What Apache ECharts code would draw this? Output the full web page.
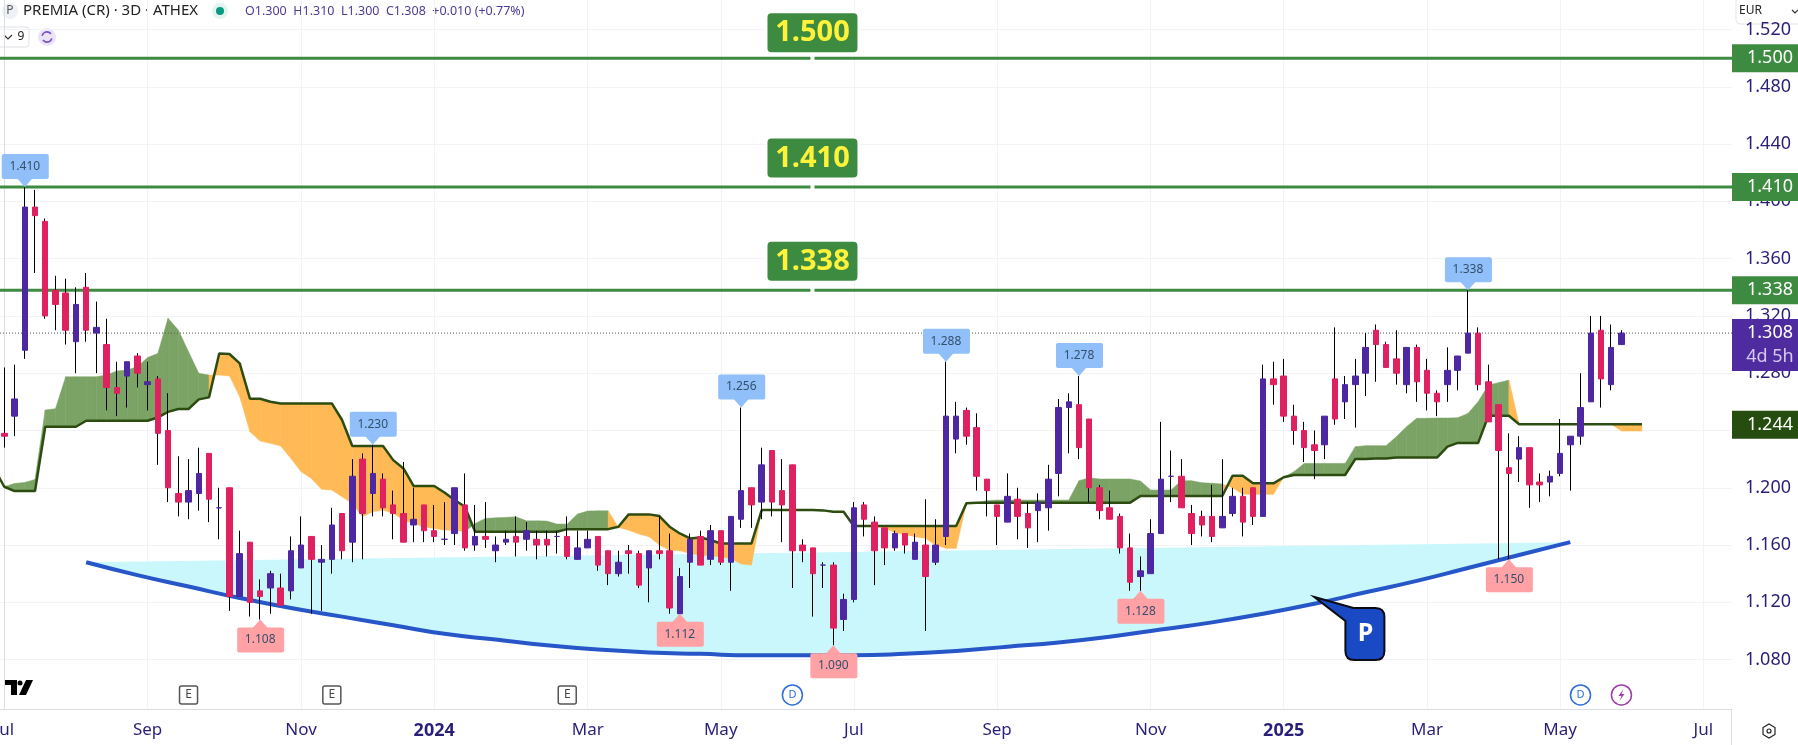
<!DOCTYPE html>
<html>
<head>
    <meta charset="utf-8">
    <title>PREMIA (CR) 3D</title>
    <script src="https://cdn.jsdelivr.net/npm/echarts@6/dist/echarts.min.js"></script>
    <style>
        html, body { margin: 0; padding: 0; background: #fff; }
        #chart { width: 1798px; height: 745px; }
    </style>
</head>
<body>
<div id="chart"></div>
<script>
    // candles, one per 3-day bar
    var opens = [1.238,1.250,1.296,1.396,1.386,1.338,1.336,1.302,1.340,1.308,
        1.300,1.270,1.278,1.292,1.272,1.276,1.240,1.196,1.190,1.196,
        1.224,1.186,1.200,1.124,1.162,1.128,1.130,1.130,1.128,1.144,
        1.166,1.148,1.150,1.182,1.162,1.220,1.196,1.206,1.188,1.182,
        1.174,1.188,1.170,1.164,1.168,1.188,1.160,1.166,1.156,1.162,
        1.166,1.164,1.164,1.164,1.166,1.166,1.150,1.158,1.166,1.156,
        1.140,1.156,1.154,1.144,1.156,1.156,1.112,1.148,1.166,1.150,
        1.170,1.148,1.178,1.200,1.190,1.226,1.198,1.216,1.160,1.158,
        1.146,1.146,1.108,1.122,1.188,1.176,1.172,1.158,1.168,1.150,
        1.160,1.148,1.166,1.234,1.254,1.242,1.206,1.188,1.176,1.192,
        1.182,1.184,1.186,1.210,1.256,1.258,1.248,1.200,1.186,1.180,
        1.158,1.138,1.140,1.168,1.208,1.208,1.182,1.180,1.180,1.172,
        1.182,1.194,1.200,1.180,1.276,1.278,1.250,1.240,1.230,1.230,
        1.276,1.260,1.272,1.280,1.310,1.300,1.290,1.272,1.298,1.282,
        1.266,1.272,1.282,1.294,1.308,1.274,1.258,1.214,1.220,1.228,
        1.204,1.204,1.210,1.230,1.236,1.260,1.310,1.272,1.300];
    var closes = [1.236,1.262,1.396,1.390,1.320,1.328,1.310,1.328,1.310,1.312,
        1.270,1.266,1.288,1.280,1.274,1.238,1.200,1.190,1.198,1.210,
        1.192,1.186,1.124,1.154,1.120,1.124,1.140,1.118,1.156,1.160,
        1.150,1.150,1.174,1.156,1.208,1.182,1.210,1.186,1.182,1.162,
        1.178,1.170,1.166,1.164,1.200,1.158,1.166,1.164,1.160,1.164,
        1.162,1.170,1.160,1.160,1.166,1.152,1.158,1.164,1.146,1.140,
        1.148,1.154,1.132,1.156,1.154,1.116,1.138,1.164,1.146,1.170,
        1.148,1.180,1.198,1.188,1.216,1.190,1.188,1.156,1.156,1.140,
        1.146,1.102,1.122,1.186,1.178,1.156,1.158,1.168,1.160,1.162,
        1.138,1.160,1.250,1.250,1.236,1.208,1.198,1.180,1.194,1.180,
        1.172,1.190,1.206,1.256,1.260,1.228,1.200,1.184,1.178,1.158,
        1.134,1.142,1.168,1.206,1.208,1.186,1.168,1.174,1.166,1.180,
        1.194,1.176,1.180,1.276,1.272,1.250,1.240,1.228,1.226,1.250,
        1.248,1.272,1.278,1.298,1.300,1.284,1.280,1.298,1.274,1.266,
        1.260,1.282,1.292,1.308,1.272,1.246,1.226,1.210,1.228,1.202,
        1.202,1.208,1.224,1.236,1.256,1.308,1.276,1.298,1.308];
    var lows = [1.228,1.236,1.290,1.350,1.318,1.310,1.300,1.280,1.302,1.280,
        1.254,1.250,1.256,1.270,1.254,1.216,1.190,1.180,1.178,1.184,
        1.176,1.164,1.114,1.124,1.110,1.108,1.112,1.118,1.122,1.144,
        1.112,1.114,1.140,1.150,1.148,1.150,1.180,1.180,1.164,1.162,
        1.162,1.162,1.162,1.160,1.160,1.156,1.156,1.158,1.148,1.160,
        1.152,1.156,1.150,1.152,1.154,1.150,1.150,1.158,1.142,1.132,
        1.138,1.140,1.130,1.120,1.150,1.112,1.112,1.130,1.146,1.146,
        1.146,1.128,1.172,1.172,1.178,1.180,1.162,1.130,1.148,1.110,
        1.130,1.090,1.100,1.120,1.166,1.132,1.146,1.156,1.154,1.150,
        1.100,1.146,1.160,1.224,1.230,1.198,1.180,1.160,1.176,1.164,
        1.158,1.162,1.170,1.194,1.224,1.220,1.190,1.178,1.178,1.154,
        1.128,1.128,1.140,1.168,1.190,1.186,1.160,1.166,1.162,1.172,
        1.180,1.166,1.174,1.180,1.258,1.246,1.230,1.218,1.206,1.220,
        1.244,1.248,1.242,1.264,1.274,1.284,1.272,1.266,1.260,1.254,
        1.250,1.260,1.268,1.294,1.268,1.246,1.150,1.150,1.204,1.186,
        1.190,1.194,1.208,1.198,1.230,1.260,1.256,1.268,1.300];
    var highs = [1.284,1.286,1.410,1.408,1.388,1.348,1.346,1.340,1.350,1.330,
        1.318,1.288,1.288,1.294,1.288,1.278,1.266,1.222,1.220,1.228,
        1.224,1.200,1.200,1.170,1.162,1.136,1.142,1.140,1.166,1.180,
        1.166,1.160,1.186,1.182,1.220,1.224,1.230,1.210,1.198,1.218,
        1.200,1.188,1.188,1.190,1.200,1.210,1.188,1.190,1.166,1.170,
        1.180,1.176,1.170,1.170,1.170,1.180,1.170,1.170,1.166,1.156,
        1.156,1.160,1.156,1.156,1.180,1.168,1.144,1.168,1.170,1.174,
        1.170,1.180,1.256,1.200,1.228,1.226,1.220,1.216,1.164,1.158,
        1.148,1.148,1.126,1.190,1.190,1.180,1.172,1.170,1.168,1.168,
        1.192,1.178,1.288,1.260,1.256,1.252,1.206,1.188,1.210,1.200,
        1.190,1.196,1.216,1.262,1.266,1.278,1.248,1.202,1.198,1.182,
        1.168,1.152,1.178,1.246,1.226,1.220,1.188,1.184,1.202,1.220,
        1.200,1.200,1.200,1.286,1.288,1.290,1.258,1.246,1.240,1.250,
        1.312,1.278,1.290,1.308,1.314,1.302,1.310,1.298,1.300,1.290,
        1.268,1.298,1.292,1.338,1.312,1.286,1.258,1.238,1.236,1.228,
        1.210,1.212,1.248,1.236,1.280,1.320,1.320,1.314,1.310];

    // cloud edges, first entry sits one bar before the first candle
    var cloudStart = -1;
    var spanA = [1.2135,1.2007,1.2030,1.2037,1.2058,1.2543,1.2552,1.2775,1.2775,1.2775,
        1.2775,1.2787,1.2815,1.2822,1.2845,1.2910,1.2938,1.3183,1.3101,1.2950,
        1.2799,1.2787,1.2787,1.2780,1.2636,1.2391,1.2326,1.2310,1.2291,1.2205,
        1.2112,1.2065,1.1989,1.1984,1.1937,1.1890,1.1798,1.1833,1.1844,1.1821,
        1.1774,1.1751,1.1728,1.1716,1.1704,1.1704,1.1693,1.1751,1.1786,1.1790,
        1.1793,1.1797,1.1769,1.1769,1.1767,1.1746,1.1746,1.1816,1.1837,1.1839,
        1.1839,1.1723,1.1704,1.1677,1.1658,1.1600,1.1565,1.1560,1.1541,1.1530,
        1.1523,1.1518,1.1506,1.1467,1.1460,1.1844,1.1844,1.1844,1.1844,1.1844,
        1.1844,1.1842,1.1832,1.1832,1.1733,1.1728,1.1728,1.1721,1.1686,1.1674,
        1.1658,1.1647,1.1600,1.1577,1.1577,1.1891,1.1896,1.1910,1.1914,1.1914,
        1.1914,1.1914,1.1914,1.1914,1.1914,1.1914,1.2049,1.2070,1.2061,1.2061,
        1.2061,1.2061,1.2047,1.1984,1.1984,1.1984,1.2049,1.2049,1.2035,1.2031,
        1.2026,1.2000,1.1954,1.1954,1.1954,1.1954,1.2073,1.2112,1.2170,1.2170,
        1.2170,1.2170,1.2170,1.2287,1.2294,1.2294,1.2294,1.2356,1.2426,1.2485,
        1.2485,1.2487,1.2487,1.2489,1.2519,1.2601,1.2717,1.2734,1.2752,1.2443,
        1.2443,1.2443,1.2443,1.2443,1.2443,1.2443,1.2443,1.2443,1.2443,1.2396,
        1.2396,1.2396];
    var spanB = [1.2135,1.2007,1.1977,1.1977,1.1977,1.2426,1.2426,1.2426,1.2426,1.2468,
        1.2468,1.2468,1.2468,1.2468,1.2468,1.2468,1.2491,1.2530,1.2550,1.2550,
        1.2617,1.2631,1.2938,1.2934,1.2868,1.2622,1.2622,1.2601,1.2589,1.2589,
        1.2589,1.2589,1.2589,1.2589,1.2473,1.2291,1.2291,1.2291,1.2291,1.2193,
        1.2135,1.2012,1.2012,1.2012,1.1967,1.1914,1.1867,1.1693,1.1693,1.1693,
        1.1693,1.1693,1.1693,1.1693,1.1693,1.1693,1.1711,1.1711,1.1711,1.1711,
        1.1711,1.1728,1.1814,1.1814,1.1814,1.1802,1.1728,1.1681,1.1646,1.1653,
        1.1635,1.1611,1.1611,1.1611,1.1611,1.1844,1.1844,1.1844,1.1844,1.1844,
        1.1844,1.1842,1.1832,1.1832,1.1733,1.1733,1.1733,1.1733,1.1733,1.1733,
        1.1733,1.1733,1.1733,1.1733,1.1733,1.1891,1.1896,1.1896,1.1896,1.1896,
        1.1896,1.1896,1.1896,1.1896,1.1896,1.1896,1.1896,1.1896,1.1896,1.1896,
        1.1896,1.1896,1.1942,1.1942,1.1942,1.1942,1.1942,1.1942,1.1942,1.1942,
        1.1942,1.2084,1.2084,1.2031,1.2031,1.2031,1.2073,1.2089,1.2089,1.2089,
        1.2089,1.2089,1.2089,1.2201,1.2201,1.2204,1.2205,1.2212,1.2212,1.2212,
        1.2212,1.2212,1.2287,1.2313,1.2313,1.2313,1.2503,1.2503,1.2503,1.2443,
        1.2443,1.2443,1.2443,1.2443,1.2443,1.2443,1.2443,1.2443,1.2443,1.2443,
        1.2443,1.2443];

    // hand drawn curve under the base
    var curveBars = [8,13,18,23,28,33,38,43,48,53,58,63,68,73,78,83,88,93,98,103,108,113,118,123,128,133,138,143,148,153];
    var curveValues = [1.148,1.139,1.131,1.123,1.116,1.110,1.104,1.098,1.094,1.090,1.087,1.085,1.084,1.083,1.083,1.083,1.084,1.086,1.089,1.092,1.096,1.101,1.106,1.112,1.119,1.127,1.135,1.144,1.153,1.162];

    // callouts on swing highs and lows
    var peakBars = [2,36,72,92,105,143];
    var peakValues = [1.410,1.230,1.256,1.288,1.278,1.338];
    var troughBars = [25,66,81,111,147];
    var troughValues = [1.108,1.112,1.090,1.128,1.150];

    // horizontal levels and price tags
    var levelValues = [1.500,1.410,1.338];
    var lastPrice = 1.308;
    var cloudPrice = 1.244;

    // axis ticks
    var monthBars = [0,14,29,42,57,70,83,97,112,125,139,152,166];
    var monthLabels = ['Jul','Sep','Nov','2024','Mar','May','Jul','Sep','Nov','2025','Mar','May','Jul'];
    var priceTicks = [1.08,1.12,1.16,1.20,1.24,1.28,1.32,1.36,1.40,1.44,1.48,1.52];

    // events along the bottom
    var earningsBars = [18,32,55];
    var dividendBars = [77,154];
    var splitBars = [158];
    var eventLevel = 1.0553;

    var FONT = '"Noto Sans", sans-serif';
    var UP = '#4e27a3', DOWN = '#e0215f', GREEN = '#3d8b40', PRICE_TEXT = '#2a1f78';

    var chart = echarts.init(document.getElementById('chart'));

    var wickData = opens.map(function (o, i) {
        return [i, lows[i], highs[i], lows[i], highs[i]];
    });
    var bodyData = opens.map(function (o, i) {
        return [i, o, closes[i], Math.min(o, closes[i]), Math.max(o, closes[i])];
    });
    var cloudData = spanA.map(function (a, i) {
        return [cloudStart + i, a, spanB[i]];
    });
    var spanBLine = spanB.map(function (b, i) {
        return [cloudStart + i, b];
    });
    var curveData = curveBars.map(function (b, i) {
        return [b, curveValues[i]];
    });

    function renderCloud(params, api) {
        var i = params.dataIndex;
        if (i === 0) return;
        // bar colour comes from the bar the segment runs into
        var fill = spanA[i] > spanB[i] ? '#7aa365' : '#ffb955';
        var x0 = cloudStart + i - 1, x1 = cloudStart + i;
        return {
            type: 'polygon',
            shape: {
                points: [
                    api.coord([x0, spanA[i - 1]]), api.coord([x1, spanA[i]]),
                    api.coord([x1, spanB[i]]), api.coord([x0, spanB[i - 1]])
                ]
            },
            style: { fill: fill, stroke: fill, lineWidth: 0.5 }
        };
    }

    function renderBowl(params, api) {
        if (params.dataIndex !== 0) return;
        var pts = curveData.map(function (p) { return api.coord(p); });
        return { type: 'polygon', shape: { points: pts }, style: { fill: '#c9f7fb' } };
    }

    function renderLevel(params, api) {
        var p = api.coord([0, api.value(1)]);
        return {
            type: 'line',
            shape: { x1: params.coordSys.x, y1: p[1], x2: params.coordSys.x + params.coordSys.width, y2: p[1] },
            style: { stroke: GREEN, lineWidth: 3 }
        };
    }

    function renderLastLine(params, api) {
        var p = api.coord([0, api.value(1)]);
        return {
            type: 'line',
            shape: { x1: params.coordSys.x, y1: p[1], x2: params.coordSys.x + params.coordSys.width, y2: p[1] },
            style: { stroke: '#555', lineWidth: 1, lineDash: [1, 2] }
        };
    }

    // big label sitting on a level line
    function renderLevelTag(params, api) {
        var p = api.coord([78.96, api.value(1)]);
        // the top tag is squeezed against the window edge in the original
        var gap = params.dataIndex === 0 ? 5 : 8.5;
        var top = p[1] - gap - 41;
        return {
            type: 'group',
            children: [
                { type: 'rect', shape: { x: p[0] - 2, y: p[1] - 4, width: 4, height: 7 }, style: { fill: '#fff' } },
                { type: 'rect', shape: { x: p[0] - 46, y: top, width: 92, height: 41, r: 5 },
                  style: { fill: GREEN, stroke: '#fff', lineWidth: 2 } },
                { type: 'text', style: { text: api.value(1).toFixed(3), x: p[0], y: top + 21, fill: '#fff23a',
                    font: 'bold 29px ' + FONT, align: 'center', verticalAlign: 'middle' } }
            ]
        };
    }

    function renderCallout(fill, above) {
        return function (params, api) {
            var p = api.coord([api.value(0), api.value(1)]);
            var d = above ? -1 : 1;
            var boxTop = above ? p[1] - 33 : p[1] + 8;
            return {
                type: 'group',
                children: [
                    { type: 'polygon', shape: { points: [[p[0], p[1]], [p[0] - 8, p[1] + d * 9], [p[0] + 8, p[1] + d * 9]] }, style: { fill: fill } },
                    { type: 'rect', shape: { x: p[0] - 23, y: boxTop, width: 47, height: 25, r: 2 }, style: { fill: fill } },
                    { type: 'text', style: { text: api.value(1).toFixed(3), x: p[0], y: boxTop + 12.5, fill: '#33506b',
                        font: '12px ' + FONT, align: 'center', verticalAlign: 'middle' } }
                ]
            };
        };
    }

    // box on the price scale
    function priceTag(params, api, fill, sub) {
        var p = api.coord([0, api.value(1)]);
        var x = params.coordSys.x + params.coordSys.width;
        var children = [
            { type: 'rect', shape: { x: x, y: p[1] - 14, width: 66, height: sub ? 52 : 28 }, style: { fill: fill } },
            { type: 'text', style: { text: api.value(1).toFixed(3), x: x + 38, y: p[1], fill: '#fff',
                font: '18px ' + FONT, align: 'center', verticalAlign: 'middle' } }
        ];
        if (sub) {
            children.push({ type: 'text', style: { text: sub, x: x + 38, y: p[1] + 24, fill: '#d5c9ef',
                font: '18px ' + FONT, align: 'center', verticalAlign: 'middle' } });
        }
        return { type: 'group', children: children };
    }

    function renderCallP(params, api) {
        var t = api.coord([api.value(0), api.value(1)]);
        var x = t[0] + 31, y = t[1] + 11;
        return {
            type: 'group',
            children: [
                { type: 'path', shape: {
                    pathData: 'M' + t[0] + ' ' + t[1] +
                        ' L' + (x + 8) + ' ' + y + ' L' + (x + 30) + ' ' + y +
                        ' Q' + (x + 39) + ' ' + y + ' ' + (x + 39) + ' ' + (y + 9) +
                        ' L' + (x + 39) + ' ' + (y + 43) +
                        ' Q' + (x + 39) + ' ' + (y + 52) + ' ' + (x + 30) + ' ' + (y + 52) +
                        ' L' + (x + 9) + ' ' + (y + 52) +
                        ' Q' + x + ' ' + (y + 52) + ' ' + x + ' ' + (y + 43) +
                        ' L' + x + ' ' + (y + 13) + ' Z' },
                  style: { fill: '#1a49c4', stroke: '#0b0b14', lineWidth: 2 } },
                { type: 'text', style: { text: 'P', x: x + 20, y: y + 26, fill: '#fff', font: 'bold 25px ' + FONT, align: 'center', verticalAlign: 'middle' } }
            ]
        };
    }

    function renderEvent(kind) {
        return function (params, api) {
            var p = api.coord([api.value(0), api.value(1)]);
            if (kind === 'E') {
                return { type: 'group', children: [
                    { type: 'rect', shape: { x: p[0] - 9, y: p[1] - 9, width: 18, height: 18, r: 2 }, style: { fill: '#fff', stroke: '#555', lineWidth: 1.5 } },
                    { type: 'text', style: { text: 'E', x: p[0], y: p[1], fill: '#444', font: '12px ' + FONT, align: 'center', verticalAlign: 'middle' } }
                ] };
            }
            var col = kind === 'D' ? '#2f6fd8' : '#9c3fa8';
            var inner = kind === 'D'
                ? { type: 'text', style: { text: 'D', x: p[0], y: p[1], fill: col, font: '11px ' + FONT, align: 'center', verticalAlign: 'middle' } }
                : { type: 'polygon', shape: { points: [[p[0] + 2, p[1] - 6], [p[0] - 3, p[1] + 1], [p[0], p[1] + 1], [p[0] - 2, p[1] + 6], [p[0] + 3, p[1] - 1], [p[0], p[1] - 1]] }, style: { fill: col } };
            return { type: 'group', children: [
                { type: 'circle', shape: { cx: p[0], cy: p[1], r: 10 }, style: { fill: '#fff', stroke: col, lineWidth: 1.5 } },
                inner
            ] };
        };
    }

    function eventSeries(bars, kind) {
        return {
            type: 'custom', z: 7, clip: false,
            encode: { x: 0, y: 1 },
            data: bars.map(function (b) { return [b, eventLevel]; }),
            renderItem: renderEvent(kind)
        };
    }

    var option = {
        animation: false,
        backgroundColor: '#fff',
        grid: { left: 0, right: 66, top: 0, bottom: 36, containLabel: false, outerBoundsMode: 'none' },
        xAxis: {
            type: 'value',
            min: -0.42,
            max: 168.8,
            axisLine: { lineStyle: { color: '#dcdee3' }, onZero: false },
            axisTick: { show: false, customValues: monthBars },
            splitLine: { show: true, lineStyle: { color: '#f2f3f5' } },
            axisLabel: {
                customValues: monthBars,
                margin: 13,
                color: PRICE_TEXT,
                fontFamily: FONT,
                fontSize: 17,
                formatter: function (v) {
                    var t = monthLabels[monthBars.indexOf(v)];
                    return t.length === 4 ? '{y|' + t + '}' : t;
                },
                rich: { y: { color: PRICE_TEXT, fontFamily: FONT, fontSize: 18, fontWeight: 'bold' } }
            }
        },
        yAxis: {
            type: 'value',
            position: 'right',
            min: 1.0455,
            max: 1.5406,
            axisLine: { show: true, lineStyle: { color: '#dcdee3' } },
            axisTick: { show: false, customValues: priceTicks },
            splitLine: { show: true, lineStyle: { color: '#f2f3f5' } },
            axisLabel: {
                customValues: priceTicks,
                margin: 13,
                color: PRICE_TEXT,
                fontFamily: FONT,
                fontSize: 18,
                formatter: function (v) { return v.toFixed(3); }
            }
        },
        series: [
            { type: 'custom', z: 1, encode: { x: 0, y: 1 }, data: curveData, renderItem: renderBowl },
            { type: 'line', z: 2, data: curveData, smooth: true, symbol: 'none', lineStyle: { color: '#2756c8', width: 4 } },
            { type: 'custom', z: 2, encode: { x: 0, y: [1, 2] }, data: cloudData, renderItem: renderCloud },
            { type: 'line', z: 3, data: spanBLine, symbol: 'none', lineStyle: { color: '#2c4c10', width: 2.5 } },
            { type: 'custom', z: 3, encode: { x: 0, y: 1 }, data: levelValues.map(function (v) { return [0, v]; }), renderItem: renderLevel },
            { type: 'custom', z: 3, encode: { x: 0, y: 1 }, data: [[0, lastPrice]], renderItem: renderLastLine },
            {
                type: 'candlestick', z: 4, barWidth: 1, data: wickData,
                itemStyle: { color: '#000', color0: '#000', borderColor: '#000', borderColor0: '#000', borderColorDoji: '#000', borderWidth: 1 }
            },
            {
                type: 'candlestick', z: 5, barWidth: 6, data: bodyData,
                itemStyle: { color: UP, color0: DOWN, borderColor: UP, borderColor0: DOWN, borderColorDoji: UP, borderWidth: 1 }
            },
            { type: 'custom', z: 6, clip: false, encode: { x: 0, y: 1 }, data: peakBars.map(function (b, i) { return [b, peakValues[i]]; }), renderItem: renderCallout('#90bff9', true) },
            { type: 'custom', z: 6, clip: false, encode: { x: 0, y: 1 }, data: troughBars.map(function (b, i) { return [b, troughValues[i]]; }), renderItem: renderCallout('#ffa1a5', false) },
            { type: 'custom', z: 6, clip: false, encode: { x: 0, y: 1 }, data: [[128, 1.1237]], renderItem: renderCallP },
            { type: 'custom', z: 7, clip: false, encode: { x: 0, y: 1 }, data: levelValues.map(function (v) { return [0, v]; }), renderItem: renderLevelTag },
            { type: 'custom', z: 8, clip: false, encode: { x: 0, y: 1 }, data: levelValues.map(function (v) { return [0, v]; }),
              renderItem: function (params, api) { return priceTag(params, api, GREEN); } },
            { type: 'custom', z: 8, clip: false, encode: { x: 0, y: 1 }, data: [[0, lastPrice]],
              renderItem: function (params, api) { return priceTag(params, api, '#4f2ba0', '4d 5h'); } },
            { type: 'custom', z: 8, clip: false, encode: { x: 0, y: 1 }, data: [[0, cloudPrice]],
              renderItem: function (params, api) { return priceTag(params, api, '#264d10'); } },
            eventSeries(earningsBars, 'E'),
            eventSeries(dividendBars, 'D'),
            eventSeries(splitBars, 'S')
        ],
        graphic: [
            // header
            { type: 'circle', shape: { cx: 10, cy: 11, r: 8 }, style: { fill: '#eef1f6' } },
            { type: 'text', x: 10, y: 11, style: { text: 'P', fill: '#555', font: '12px ' + FONT, align: 'center', verticalAlign: 'middle' } },
            { type: 'text', x: 23, y: 11, style: { text: 'PREMIA (CR) · 3D · ATHEX', fill: '#222', font: '15px ' + FONT, verticalAlign: 'middle' } },
            { type: 'circle', shape: { cx: 220, cy: 11, r: 8 }, style: { fill: '#e2f3f0' } },
            { type: 'circle', shape: { cx: 220, cy: 11, r: 4 }, style: { fill: '#089981' } },
            { type: 'text', x: 245, y: 11, style: { text: 'O1.300  H1.310  L1.300  C1.308  +0.010 (+0.77%)', fill: '#4f3a94', font: '12.5px ' + FONT, verticalAlign: 'middle' } },
            // indicator row
            { type: 'rect', shape: { x: -4, y: 27, width: 33, height: 20, r: 3 }, style: { fill: '#fff', stroke: '#dfe1e6', lineWidth: 1 } },
            { type: 'polyline', shape: { points: [[4, 35], [8, 39], [12, 35]] }, style: { stroke: '#333', fill: null, lineWidth: 1.2 } },
            { type: 'text', x: 21, y: 37, style: { text: '9', fill: '#222', font: '12px ' + FONT, align: 'center', verticalAlign: 'middle' } },
            { type: 'circle', shape: { cx: 47, cy: 37, r: 9 }, style: { fill: '#ebe3f8' } },
            { type: 'arc', shape: { cx: 47, cy: 37, r: 5, startAngle: 3.4, endAngle: 5.6 }, style: { stroke: '#7a4fd0', fill: null, lineWidth: 1.8 } },
            { type: 'arc', shape: { cx: 47, cy: 37, r: 5, startAngle: 0.3, endAngle: 2.5 }, style: { stroke: '#7a4fd0', fill: null, lineWidth: 1.8 } },
            // currency box
            { type: 'rect', shape: { x: 1736, y: -3, width: 70, height: 27, r: 4 }, style: { fill: '#fff', stroke: '#e3e5ea', lineWidth: 1 } },
            { type: 'text', x: 1739, y: 11, style: { text: 'EUR', fill: '#222', font: '12px ' + FONT, verticalAlign: 'middle' } },
            { type: 'polyline', shape: { points: [[1792, 10], [1795, 13], [1798, 10]] }, style: { stroke: '#333', fill: null, lineWidth: 1.2 } },
            // logo
            { type: 'polygon', shape: { points: [[5, 680], [17, 680], [17, 695], [11, 695], [11, 685], [5, 685]] }, style: { fill: '#000' } },
            { type: 'circle', shape: { cx: 20, cy: 683, r: 2.5 }, style: { fill: '#000' } },
            { type: 'polygon', shape: { points: [[26, 680], [33, 680], [26, 695], [19, 695]] }, style: { fill: '#000' } },
            // settings glyph
            { type: 'polygon', shape: { points: [[1769, 724], [1775, 727.5], [1775, 734.5], [1769, 738], [1763, 734.5], [1763, 727.5]] }, style: { fill: '#fff', stroke: '#222', lineWidth: 1.2 } },
            { type: 'circle', shape: { cx: 1769, cy: 731, r: 2 }, style: { fill: '#fff', stroke: '#222', lineWidth: 1.2 } },
            { type: 'line', shape: { x1: 1731.5, y1: 709, x2: 1731.5, y2: 745 }, style: { stroke: '#dcdee3', lineWidth: 1 } }
        ]
    };

    chart.setOption(option);
</script>
</body>
</html>
